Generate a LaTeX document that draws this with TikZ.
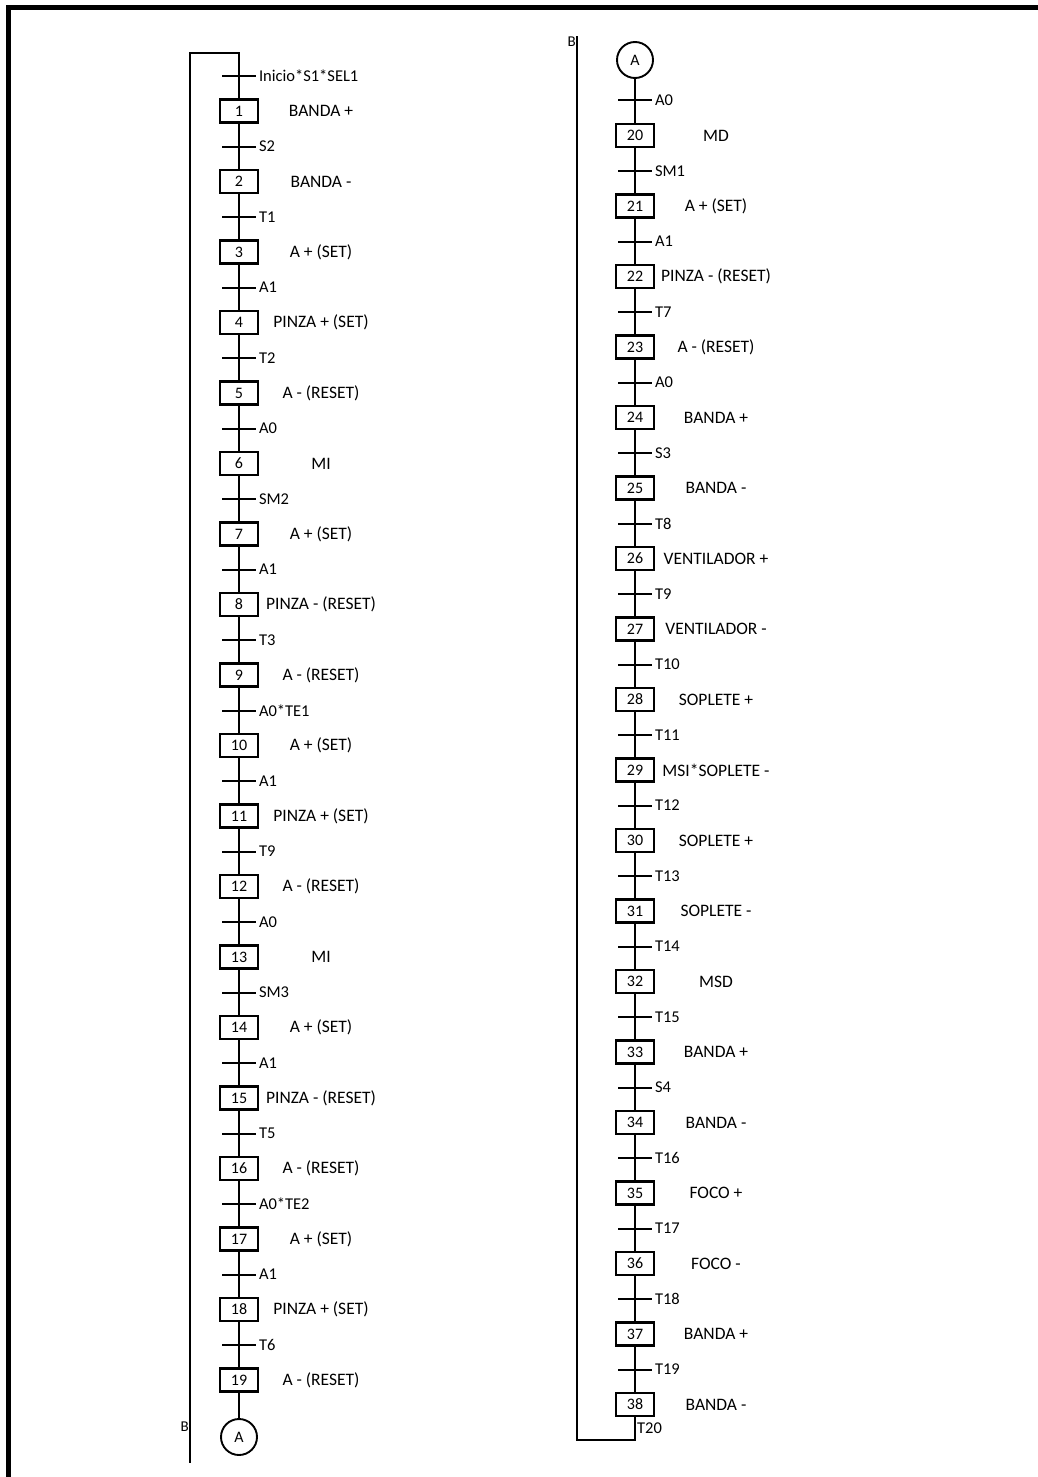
\documentclass[tikz,border=0pt]{standalone}
\usepackage{fontspec}
\setmainfont{Carlito}
\begin{document}
\begin{tikzpicture}[x=1pt,y=-1pt,
    stepbox/.style={draw,fill=white,line width=2.4pt,minimum width=38pt,minimum height=23pt,inner sep=0pt,font=\fontsize{16}{16}\selectfont},
    mcirc/.style={circle,draw,fill=white,line width=1.9pt,minimum size=36pt,inner sep=0pt,font=\fontsize{16}{16}\selectfont},
    act/.style={font=\fontsize{17.5}{17.5}\selectfont},
    tlabel/.style={anchor=west,inner sep=2pt,font=\fontsize{16.5}{16.5}\selectfont},
    link/.style={line width=2pt},
    bar/.style={line width=2pt},
    loopline/.style={line width=2.6pt}
]
\useasboundingbox (0,0) rectangle (1038,1477);
\draw[line width=5pt] (8.5,1477) -- (8.5,8) -- (1038,8);

% left column: steps 1 to 19
\foreach \n/\a [count=\i from 0] in {
    1/{BANDA +}, 2/{BANDA -}, 3/{A + (SET)}, 4/{PINZA + (SET)},
    5/{A - (RESET)}, 6/MI, 7/{A + (SET)}, 8/{PINZA - (RESET)},
    9/{A - (RESET)}, 10/{A + (SET)}, 11/{PINZA + (SET)}, 12/{A - (RESET)},
    13/MI, 14/{A + (SET)}, 15/{PINZA - (RESET)}, 16/{A - (RESET)},
    17/{A + (SET)}, 18/{PINZA + (SET)}, 19/{A - (RESET)}} {
  \node[stepbox] (s\n) at (239,111+\i*70.5) {\n};
  \node[act] (a\n) at (321,111+\i*70.5) {\a};
  \coordinate (t\n) at (239,76+\i*70.5);
}

% right column: steps 20 to 38
\foreach \n/\a [count=\i from 0] in {
    20/MD, 21/{A + (SET)}, 22/{PINZA - (RESET)}, 23/{A - (RESET)},
    24/{BANDA +}, 25/{BANDA -}, 26/{VENTILADOR +}, 27/{VENTILADOR -},
    28/{SOPLETE +}, 29/{MSI*SOPLETE -}, 30/{SOPLETE +}, 31/{SOPLETE -},
    32/MSD, 33/{BANDA +}, 34/{BANDA -}, 35/{FOCO +}, 36/{FOCO -},
    37/{BANDA +}, 38/{BANDA -}} {
  \node[stepbox] (s\n) at (635,135.5+\i*70.5) {\n};
  \node[act] (a\n) at (716,135.5+\i*70.5) {\a};
  \coordinate (t\n) at (635,100.5+\i*70.5);
}

\node[mcirc] (AL) at (239,1437) {A};
\node[mcirc] (AR) at (635,60) {A};

% links between steps
\foreach \n in {2,...,19,21,22,...,38} {
  \pgfmathtruncatemacro\p{\n-1}
  \draw[link] (s\p) -- (s\n);
}
\draw[link] (s19) -- (AL);
\draw[link] (AR) -- (s20);

% transitions
\foreach \n/\t in {1/{Inicio*S1*SEL1}, 2/S2, 3/T1, 4/A1, 5/T2, 6/A0, 7/SM2,
    8/A1, 9/T3, 10/{A0*TE1}, 11/A1, 12/T9, 13/A0, 14/SM3, 15/A1, 16/T5,
    17/{A0*TE2}, 18/A1, 19/T6, 20/A0, 21/SM1, 22/A1, 23/T7, 24/A0, 25/S3,
    26/T8, 27/T9, 28/T10, 29/T11, 30/T12, 31/T13, 32/T14, 33/T15, 34/S4,
    35/T16, 36/T17, 37/T18, 38/T19}
  \draw[bar] ([xshift=-17pt]t\n) -- ([xshift=17pt]t\n) node[tlabel] {\t};

% loop back B
\coordinate (topL) at (239,53);
\coordinate (cornL) at (190,53);
\coordinate (endL) at (190,1463);
\draw[loopline] (s1) -- (topL) -- (cornL) -- (endL);
\node[anchor=east,inner sep=1pt,font=\fontsize{15}{15}\selectfont] (BL) at (190,1427) {B};

\coordinate (botR) at (635,1440);
\coordinate (cornR) at (577,1440);
\coordinate (topR) at (577,36);
\draw[loopline] (s38) -- (botR) -- (cornR) -- (topR);
\node[anchor=east,inner sep=1pt,font=\fontsize{15}{15}\selectfont] (BR) at (577,42) {B};
\node[tlabel,inner sep=1pt] (T20) at (636,1428) {T20};
\end{tikzpicture}
\end{document}
